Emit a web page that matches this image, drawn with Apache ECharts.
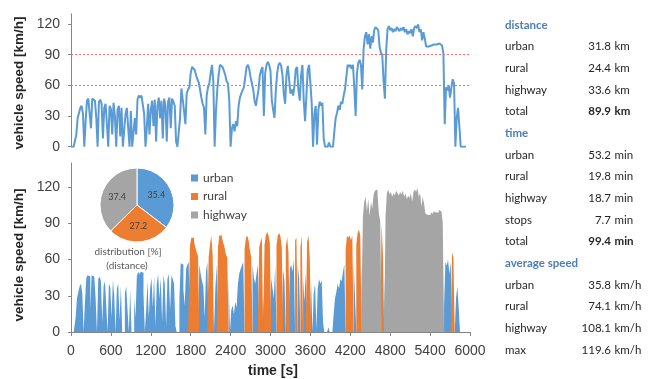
<!DOCTYPE html>
<html>
<head>
<meta charset="utf-8">
<script src="https://cdn.jsdelivr.net/npm/echarts@6/dist/echarts.min.js"></script>
<style>
  html, body { margin: 0; padding: 0; background: #fff; }
  #chart { width: 656px; height: 379px; }
</style>
</head>
<body>
<div id="chart"></div>
<script>
// Speed trace sampled every 20 s (km/h), one row per 600 s
const sampleStep = 20;
const speedKmh = [
  0,0,0,0,12,28,33,38,40,32, 0,25,45,47,46,18,47,46,45,28, 0,44,46,42,8,38,42,22,0,40,
  37,12,43,30,0,36,40,10,38,0, 0,32,38,18,0,35,0,0,28,12, 46,50,48,50,49,32,0,18,42,12,
  36,45,20,46,5,40,48,28,45,8, 47,40,5,44,48,18,47,44,40,5, 0,0,28,57,56,35,22,52,56,58,
  72,78,78,75,70,66,63,56,48,42, 38,12,50,58,62,72,80,64,0,35, 56,70,80,80,78,74,70,64,62,45,
  0,18,22,15,25,20,40,48,52,55, 58,68,78,80,76,68,62,56,45,40, 48,56,70,75,78,30,72,80,83,80,
  74,45,36,28,55,72,80,82,79,70, 52,42,70,79,66,52,56,50,60,76, 78,55,45,70,80,45,25,50,75,80,
  62,42,0,32,40,2,36,44,40,43, 8,0,0,0,4,0,0,0,15,28, 33,40,36,44,42,50,56,68,80,78,
  80,76,80,58,30,72,82,85,80,56, 96,108,112,100,110,96,108,102,114,117, 118,114,98,92,90,65,47,95,115,118,
  114,116,112,115,113,117,115,113,116,114, 117,112,115,110,113,111,115,108,116,118, 116,119.6,112,115,104,112,106,98,97,98,
  97,99,98,100,99,100,99,101,100,99, 91,22,58,55,60,48,58,66,62,0, 28,38,20,0,0,0,0,0
];

// Speed class limits (km/h): urban <= 60 < rural <= 90 < highway
const classNames = ['urban', 'rural', 'highway'];
const classColors = ['#5b9bd5', '#ed7d31', '#a5a5a5'];
const classUpper = [60, 90, Infinity];

// Share of distance per class [%]
const distanceShare = [35.4, 27.2, 37.4];

// Axis ticks
const timeTicks = [0, 600, 1200, 1800, 2400, 3000, 3600, 4200, 4800, 5400, 6000];
const speedTicks = [0, 30, 60, 90, 120];
const speedGuides = [60, 90];

// Summary table
const distanceLabels = ['urban', 'rural', 'highway', 'total'];
const distanceKm = [31.8, 24.4, 33.6, 89.9];
const timeLabels = ['urban', 'rural', 'highway', 'stops', 'total'];
const timeMin = [53.2, 19.8, 18.7, 7.7, 99.4];
const speedLabels = ['urban', 'rural', 'highway', 'max'];
const speedValues = [35.8, 74.1, 108.1, 119.6];

const tickFont = 'Liberation Sans, Arial, sans-serif';
const textFont = 'Lato, sans-serif';
const axisGray = '#868686';
const labelGray = '#404040';

const tracePairs = speedKmh.map((v, i) => [i * sampleStep, v]);
function classOf(v) {
  for (let c = 0; c < classUpper.length; c++) if (v <= classUpper[c]) return c;
  return classUpper.length - 1;
}
// Per class: the speed where the sample falls in that class, zero elsewhere
const classPairs = classNames.map((_, c) =>
  speedKmh.map((v, i) => [i * sampleStep, classOf(v) === c ? v : 0])
);

const chart = echarts.init(document.getElementById('chart'), null, { renderer: 'canvas' });

const gridLeft = 71, gridWidth = 399;
const grids = [
  { left: gridLeft, top: 13.8, width: gridWidth, height: 132.9 },
  { left: gridLeft, top: 163, width: gridWidth, height: 169 }
];

const plainNumber = v => String(v);

function speedAxis(gridIndex, max) {
  return {
    type: 'value', gridIndex, min: 0, max, interval: 30,
    axisLine: { show: true, lineStyle: { color: axisGray, width: 1 } },
    axisTick: { show: true, length: 3, lineStyle: { color: axisGray }, customValues: speedTicks },
    axisLabel: {
      show: true, fontFamily: tickFont, fontSize: 14, color: labelGray, margin: 11,
      customValues: speedTicks, formatter: plainNumber
    },
    splitLine: { show: false }
  };
}

// Summary table built as text graphics
const tableGraphics = [];
const rowTop = 25, rowStep = 21.67, labelX = 505, numberRight = 611, unitLeft = 614.5;
let row = 0;
function addHeader(text) {
  tableGraphics.push({
    type: 'text', x: labelX, y: rowTop + row * rowStep,
    style: { text, fontFamily: textFont, fontSize: 11.5, fontWeight: 'bold', fill: '#4a7ebb',
             textAlign: 'left', textVerticalAlign: 'middle' }
  });
  row++;
}
function addRows(labels, values, unit) {
  labels.forEach((lab, i) => {
    const y = rowTop + row * rowStep;
    const bold = lab === 'total';
    tableGraphics.push({
      type: 'text', x: labelX, y,
      style: { text: lab, fontFamily: textFont, fontSize: 11.5, fill: '#262626',
               textAlign: 'left', textVerticalAlign: 'middle' }
    });
    tableGraphics.push({
      type: 'text', x: numberRight, y,
      style: { text: values[i].toFixed(1), fontFamily: textFont, fontSize: 11.5,
               fontWeight: bold ? 'bold' : 'normal', fill: '#262626',
               textAlign: 'right', textVerticalAlign: 'middle' }
    });
    tableGraphics.push({
      type: 'text', x: unitLeft, y,
      style: { text: unit, fontFamily: textFont, fontSize: 11.5,
               fontWeight: bold ? 'bold' : 'normal', fill: '#262626',
               textAlign: 'left', textVerticalAlign: 'middle' }
    });
    row++;
  });
}
addHeader('distance');
addRows(distanceLabels, distanceKm, 'km');
addHeader('time');
addRows(timeLabels, timeMin, 'min');
addHeader('average speed');
addRows(speedLabels, speedValues, 'km/h');

const titleGraphics = [
  { type: 'text', x: 19, y: 83, rotation: Math.PI / 2,
    style: { text: 'vehicle speed [km/h]', fontFamily: tickFont, fontSize: 13.5, fontWeight: 'bold',
             fill: '#262626', textAlign: 'center', textVerticalAlign: 'middle' } },
  { type: 'text', x: 19, y: 255, rotation: Math.PI / 2,
    style: { text: 'vehicle speed [km/h]', fontFamily: tickFont, fontSize: 13.5, fontWeight: 'bold',
             fill: '#262626', textAlign: 'center', textVerticalAlign: 'middle' } },
  { type: 'text', x: 273, y: 371,
    style: { text: 'time [s]', fontFamily: tickFont, fontSize: 14, fontWeight: 'bold',
             fill: '#262626', textAlign: 'center', textVerticalAlign: 'middle' } },
  { type: 'text', x: 128, y: 252,
    style: { text: 'distribution [%]', fontFamily: textFont, fontSize: 10, fill: '#595959',
             textAlign: 'center', textVerticalAlign: 'middle' } },
  { type: 'text', x: 127, y: 266,
    style: { text: '(distance)', fontFamily: textFont, fontSize: 10, fill: '#595959',
             textAlign: 'center', textVerticalAlign: 'middle' } }
];

const option = {
  animation: false,
  backgroundColor: '#ffffff',
  grid: grids,
  xAxis: [
    { type: 'value', gridIndex: 0, min: 0, max: 6000, interval: 600, show: false },
    {
      type: 'value', gridIndex: 1, min: 0, max: 6000, interval: 600,
      axisLine: { show: true, lineStyle: { color: axisGray, width: 1 } },
      axisTick: { show: true, length: 4, lineStyle: { color: axisGray }, customValues: timeTicks },
      axisLabel: { fontFamily: tickFont, fontSize: 14, color: labelGray, margin: 12,
                   customValues: timeTicks, formatter: plainNumber },
      splitLine: { show: false }
    }
  ],
  yAxis: [speedAxis(0, 130), speedAxis(1, 140)],
  legend: {
    data: classNames, orient: 'vertical', left: 186, top: 166,
    icon: 'rect', itemWidth: 7, itemHeight: 7, itemGap: 4.5, selectedMode: false,
    textStyle: { fontFamily: textFont, fontSize: 12, color: labelGray, lineHeight: 14 }
  },
  series: [
    {
      type: 'line', xAxisIndex: 0, yAxisIndex: 0, data: tracePairs,
      showSymbol: false, symbol: 'none',
      lineStyle: { color: '#5b9bd5', width: 2 },
      itemStyle: { color: '#5b9bd5' },
      markLine: {
        silent: true, symbol: 'none', label: { show: false },
        lineStyle: { color: '#ff6b6b', type: [2, 2], width: 1 },
        data: speedGuides.map(v => ({ yAxis: v }))
      }
    },
    // Speed columns per class: stepped filled areas, one slot per sample
    ...classNames.map((name, c) => ({
      name, type: 'line', xAxisIndex: 1, yAxisIndex: 1, data: classPairs[c],
      step: 'middle', showSymbol: false, symbol: 'none', silent: true,
      lineStyle: { width: 0, color: classColors[c] },
      itemStyle: { color: classColors[c] },
      areaStyle: { color: classColors[c], opacity: 1 }
    })),
    {
      type: 'pie', center: [137, 205], radius: 37, startAngle: 90, clockwise: true,
      silent: true, emphasis: { disabled: true },
      itemStyle: { borderColor: '#ffffff', borderWidth: 1 },
      label: { show: true, position: 'inside', formatter: '{c}', fontFamily: textFont,
               fontSize: 9, color: labelGray },
      labelLine: { show: false },
      data: classNames.map((name, c) => ({ name, value: distanceShare[c], itemStyle: { color: classColors[c] } }))
    }
  ],
  graphic: [...titleGraphics, ...tableGraphics]
};

chart.setOption(option);
</script>
</body>
</html>
